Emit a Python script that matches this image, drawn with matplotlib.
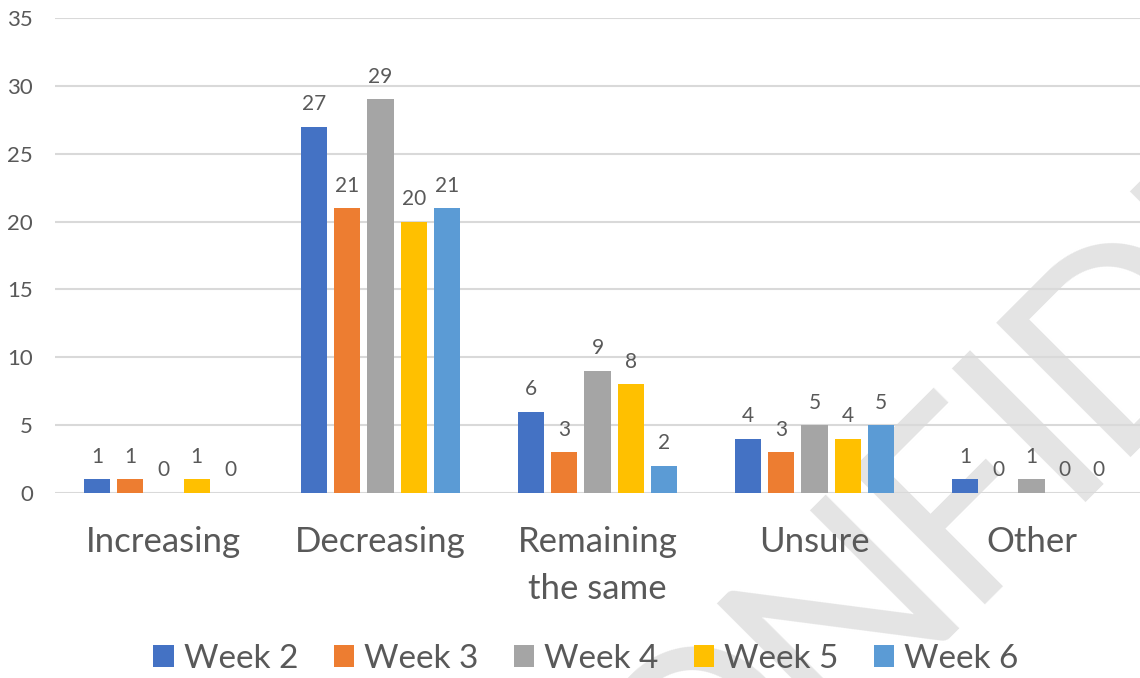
import matplotlib
matplotlib.use('Agg')
import matplotlib.pyplot as plt
import numpy as np
from matplotlib.patches import Patch

plt.rcParams['font.family'] = ['Lato', 'DejaVu Sans']

categories = ['Increasing', 'Decreasing', 'Remaining\nthe same', 'Unsure', 'Other']
weeks = ['Week 2', 'Week 3', 'Week 4', 'Week 5', 'Week 6']
week2 = [1, 27, 6, 4, 1]
week3 = [1, 21, 3, 3, 0]
week4 = [0, 29, 9, 5, 1]
week5 = [1, 20, 8, 4, 0]
week6 = [0, 21, 2, 5, 0]
colors = ['#4472C4', '#ED7D31', '#A5A5A5', '#FFC000', '#5B9BD5']
yticks = [0, 5, 10, 15, 20, 25, 30, 35]

# watermark letters with their advance widths (in em)
wm_text = 'CONFIDENTIAL'
wm_adv = [0.533, 0.662, 0.646, 0.459, 0.252, 0.615, 0.488, 0.646, 0.487, 0.252, 0.579, 0.420]

text_col = '#595959'
grid_col = '#D9D9D9'

fig = plt.figure(figsize=(11.4, 6.78), dpi=100)
ax = fig.add_axes([55 / 1140, 1 - 493 / 678, 1 - 55 / 1140, (493 - 18) / 678])
ax.set_facecolor('none')

# watermark, drawn letter by letter along a 45 degree baseline
em = 295.0
u = -283.0
for ch, adv in zip(wm_text, wm_adv):
    uc = (u + adv * em / 2) / np.sqrt(0.5)
    px = (uc + 1564) / 2
    py = (1564 - uc) / 2
    fig.text(px / 1140, 1 - py / 678, ch, fontsize=191, color='#E4E4E4',
             rotation=45, rotation_mode='anchor', ha='center', va='baseline', zorder=-5)
    u += adv * em

x = np.arange(len(categories))
step = 0.1535
width = 0.12
series = [week2, week3, week4, week5, week6]
for i, vals in enumerate(series):
    pos = x + (i - 2) * step
    ax.bar(pos, vals, width=width, color=colors[i], zorder=3)
    for bx, v in zip(pos, vals):
        ax.annotate(str(v), (bx, v), xytext=(0, 9), textcoords='offset points',
                    ha='center', va='bottom', fontsize=15, color=text_col, zorder=4)

ax.set_xlim(-0.5, 4.5)
ax.set_ylim(0, 35)
ax.set_yticks(yticks)
ax.yaxis.grid(True, color=grid_col, linewidth=1.5, zorder=0)
ax.set_axisbelow(True)
for s in ax.spines.values():
    s.set_visible(False)
ax.tick_params(axis='y', length=0, pad=16, labelsize=16, labelcolor=text_col)
ax.set_xticks(x)
ax.set_xticklabels(categories, fontsize=25, color=text_col, linespacing=1.55)
ax.tick_params(axis='x', length=0, pad=24)

handles = [Patch(facecolor=c, edgecolor='none') for c in colors]
fig.legend(handles, weeks, loc='center', bbox_to_anchor=(586 / 1140, 1 - 659 / 678),
           ncol=5, frameon=False, fontsize=24, labelcolor=text_col,
           handlelength=0.62, handleheight=0.62, handletextpad=0.3, columnspacing=1.05,
           borderpad=0, borderaxespad=0)

fig.savefig('out.png', dpi=100)
